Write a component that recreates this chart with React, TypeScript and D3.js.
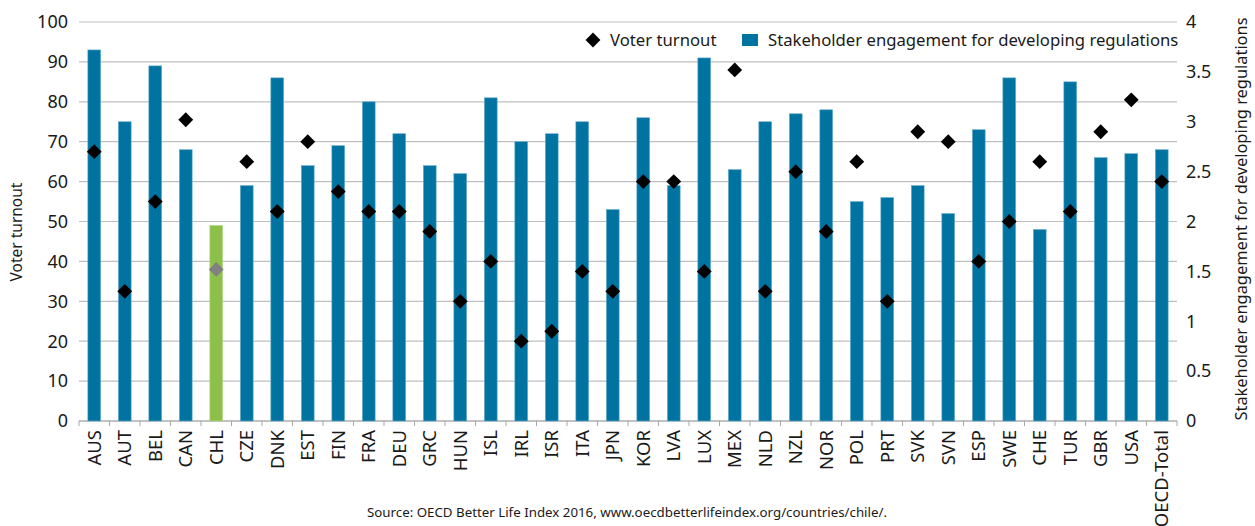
import React from "react";
import * as d3 from "d3";

const categories = ["AUS","AUT","BEL","CAN","CHL","CZE","DNK","EST","FIN","FRA","DEU","GRC","HUN","ISL","IRL","ISR","ITA","JPN","KOR","LVA","LUX","MEX","NLD","NZL","NOR","POL","PRT","SVK","SVN","ESP","SWE","CHE","TUR","GBR","USA","OECD-Total"];
// bars, read on the left axis (0-100)
const barValues = [93,75,89,68,49,59,86,64,69,80,72,64,62,81,70,72,75,53,76,59,91,63,75,77,78,55,56,59,52,73,86,48,85,66,67,68];
// diamonds, read on the right axis (0-4)
const diamondValues = [2.7,1.3,2.2,3.02,1.52,2.6,2.1,2.8,2.3,2.1,2.1,1.9,1.2,1.6,0.8,0.9,1.5,1.3,2.4,2.4,1.5,3.52,1.3,2.5,1.9,2.6,1.2,2.9,2.8,1.6,2.0,2.6,2.1,2.9,3.22,2.4];
const leftTicks = [0,10,20,30,40,50,60,70,80,90,100];
const rightTicks = [0,0.5,1,1.5,2,2.5,3,3.5,4];
const highlight = "CHL";

const W = 1255, H = 526;
const M = { left: 79, right: 1177, top: 22, bottom: 421 };
const FONT = "'Noto Sans', 'Open Sans', sans-serif";
const BLUE = "#0073a1";
const GREEN = "#8dc04a";

export default function App() {
  const x = d3.scaleBand<string>().domain(categories).range([M.left, M.right]).paddingInner(0.58).paddingOuter(0.29);
  const step = x.step();
  const yL = d3.scaleLinear().domain([0, 100]).range([M.bottom, M.top]);
  const yR = d3.scaleLinear().domain([0, 4]).range([M.bottom, M.top]);
  const sq = d3.symbol().type(d3.symbolSquare).size(110)() as string;
  const bounds = d3.range(categories.length + 1).map(i => M.left + i * step);

  return (
    <svg width={W} height={H} style={{ position: "absolute", left: 0, top: 0, background: "#fff" }} fontFamily={FONT}>
      {leftTicks.map(t => (
        <g key={"l" + t}>
          <line x1={M.left} x2={M.right} y1={yL(t)} y2={yL(t)} stroke="#bfbfbf" strokeWidth={1.2} />
          <text x={68} y={yL(t)} dy="0.35em" textAnchor="end" fontSize={18} fill="#1a1a1a">{t}</text>
        </g>
      ))}
      {rightTicks.map(t => (
        <text key={"r" + t} x={1186} y={yR(t)} dy="0.35em" textAnchor="start" fontSize={18} fill="#1a1a1a">{t}</text>
      ))}
      <line x1={M.left} x2={M.right} y1={M.bottom} y2={M.bottom} stroke="#a6a6a6" strokeWidth={1.2} />
      {bounds.map((b, i) => (
        <line key={"t" + i} x1={b} x2={b} y1={M.bottom} y2={M.bottom + 5} stroke="#a6a6a6" strokeWidth={1} />
      ))}
      {categories.map((c, i) => (
        <rect key={"b" + c} x={x(c)} y={yL(barValues[i])} width={x.bandwidth()} height={yL(0) - yL(barValues[i])}
          fill={c === highlight ? GREEN : BLUE} stroke={c === highlight ? "#b5d88c" : "#6aaed0"} strokeWidth={0.6} />
      ))}
      {categories.map((c, i) => (
        <path key={"d" + c} d={sq}
          transform={`translate(${(x(c) as number) + x.bandwidth() / 2},${yR(diamondValues[i])}) rotate(45)`}
          fill={c === highlight ? "#808080" : "#000"} />
      ))}
      {categories.map(c => (
        <text key={"x" + c} transform={`translate(${(x(c) as number) + x.bandwidth() / 2},${M.bottom + 9}) rotate(-90)`}
          textAnchor="end" dy="0.35em" fontSize={18.5} fill="#1a1a1a">{c}</text>
      ))}
      <text transform={`translate(22,232) rotate(-90)`} textAnchor="middle" fontSize={15.5} fill="#1a1a1a">Voter turnout</text>
      <text transform={`translate(1247,219) rotate(-90)`} textAnchor="middle" fontSize={16.4} fill="#1a1a1a">Stakeholder engagement for developing regulations</text>
      <path d={sq} transform="translate(593,40) rotate(45)" fill="#000" />
      <text x={610} y={40} dy="0.35em" fontSize={16.7} fill="#1a1a1a">Voter turnout</text>
      <rect x={742} y={34} width={16} height={12} fill={BLUE} />
      <text x={768} y={40} dy="0.35em" fontSize={16.7} fill="#1a1a1a">Stakeholder engagement for developing regulations</text>
      <text x={627} y={517} textAnchor="middle" fontSize={13.3} fill="#1a1a1a">Source: OECD Better Life Index 2016, www.oecdbetterlifeindex.org/countries/chile/.</text>
    </svg>
  );
}
